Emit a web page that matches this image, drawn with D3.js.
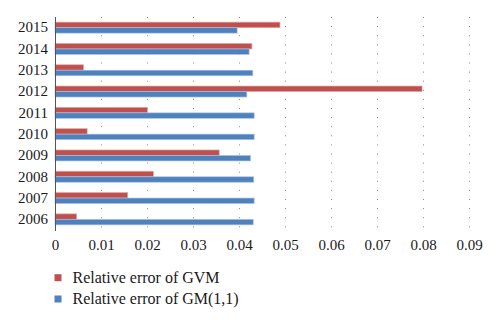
<!DOCTYPE html>
<html>
<head>
<meta charset="utf-8">
<script src="https://cdn.jsdelivr.net/npm/d3@7"></script>
<style>
html,body{margin:0;padding:0;background:#fff;}
svg{display:block;}
svg text{font-family:"Liberation Serif","Times New Roman",serif;}
</style>
</head>
<body>
<svg id="chart" width="500" height="323"></svg>
<script>
// ---- data ----
const years = ["2015","2014","2013","2012","2011","2010","2009","2008","2007","2006"];
const gvmErr = [0.0489,0.0428,0.0062,0.0798,0.0201,0.0070,0.0357,0.0214,0.0158,0.0047];
const gmErr  = [0.0396,0.0422,0.0430,0.0417,0.0433,0.0433,0.0425,0.0432,0.0433,0.0431];
const xTicks = [0,0.01,0.02,0.03,0.04,0.05,0.06,0.07,0.08,0.09];
const seriesNames = ["Relative error of GVM","Relative error of GM(1,1)"];
const seriesColors = ["#C0504D","#4F81BD"];
const seriesLight = ["#E3A6A4","#A9C3E6"];

const svg = d3.select("#chart");
const m = {left:55, right:31, top:17, bottom:93};
const W = 500, H = 323;
const iw = W - m.left - m.right, ih = H - m.top - m.bottom;

const x = d3.scaleLinear().domain([0,0.09]).range([0, iw]);
const y = d3.scaleBand().domain(years).range([0, ih]).paddingInner(0.484).paddingOuter(0.242);
const ySub = d3.scaleBand().domain([0,1]).range([0, y.bandwidth()]);

const g = svg.append("g").attr("transform",`translate(${m.left},${m.top})`);

// dotted gridlines
g.append("g").selectAll("line").data(xTicks.slice(1)).join("line")
  .attr("x1",d=>Math.round(x(d))+0.5).attr("x2",d=>Math.round(x(d))+0.5)
  .attr("y1",0).attr("y2",ih)
  .attr("stroke","#8a8a8a").attr("stroke-width",1)
  .attr("stroke-dasharray","1,8.1");

// bars
const rows = years.map((yr,i)=>({yr, vals:[gvmErr[i], gmErr[i]]}));
const rg = g.append("g").selectAll("g").data(rows).join("g")
  .attr("transform",d=>`translate(0,${y(d.yr)})`);
rg.selectAll("rect").data(d=>d.vals.map((v,k)=>({v,k}))).join("rect")
  .attr("x",0).attr("y",d=>ySub(d.k))
  .attr("width",d=>x(d.v)).attr("height",ySub.bandwidth())
  .attr("fill",d=>seriesColors[d.k])
  .attr("stroke",d=>seriesLight[d.k]).attr("stroke-width",0.8).attr("stroke-opacity",0.8);

// y axis
const yAxis = g.append("g").call(d3.axisLeft(y).tickSize(0).tickPadding(7));
yAxis.attr("font-family",null).attr("font-size",null);
yAxis.select(".domain").attr("stroke","#555").attr("d",`M0.5,0V${ih+1}`);
yAxis.selectAll("text").style("font-size","15px").attr("fill","#1a1a1a");

// x axis labels (no line)
const xAxis = g.append("g").attr("transform",`translate(0,${ih})`)
  .call(d3.axisBottom(x).tickValues(xTicks).tickSize(0).tickPadding(9)
    .tickFormat(d=>d===0?"0":d3.format(".2f")(d)));
xAxis.attr("font-family",null).attr("font-size",null);
xAxis.select(".domain").remove();
xAxis.selectAll("text").style("font-size","15px").attr("fill","#1a1a1a");

// legend
const lg = svg.append("g").attr("transform","translate(54.5,0)");
const li = lg.selectAll("g").data(seriesNames).join("g")
  .attr("transform",(d,i)=>`translate(0,${277.7 + i*21.3})`);
li.append("rect").attr("x",0).attr("y",-3.5).attr("width",7).attr("height",7)
  .attr("fill",(d,i)=>seriesColors[i]);
li.append("text").attr("x",18).attr("y",4.8).text(d=>d)
  .style("font-size","16px").attr("fill","#1a1a1a");
</script>
</body>
</html>
